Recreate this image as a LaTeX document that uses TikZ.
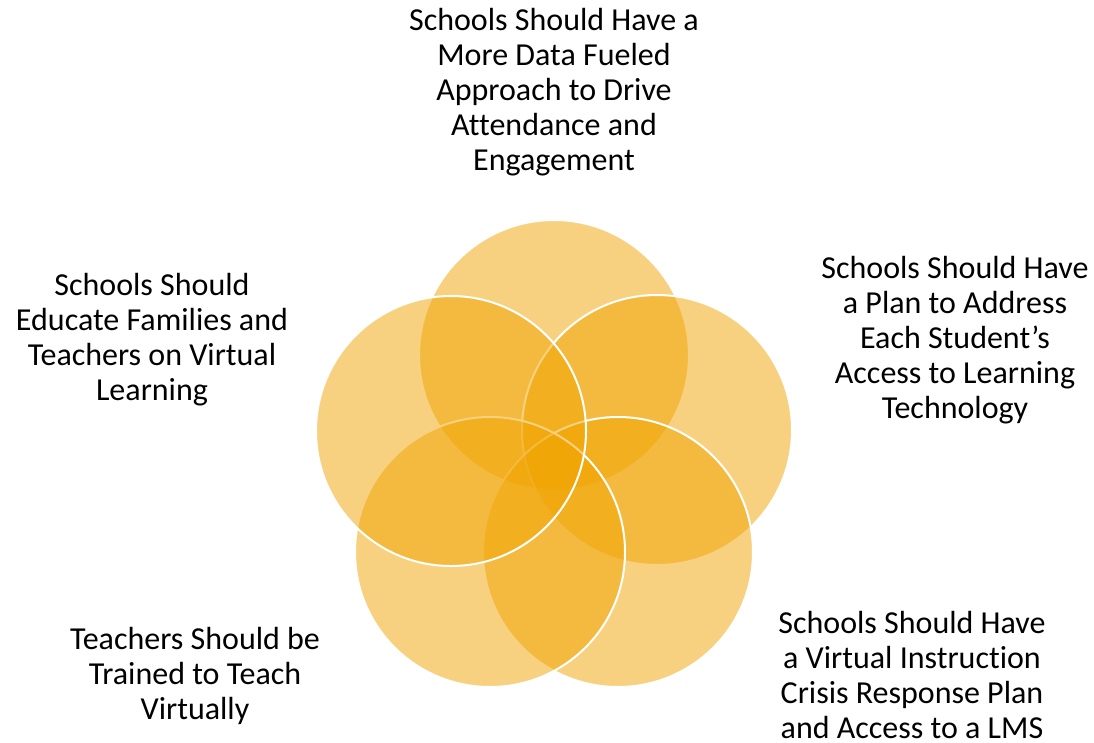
\documentclass[tikz,border=0pt]{standalone}
\usepackage{fontspec}
\setmainfont{Carlito}[Ligatures=CommonOff]
\usepackage{xcolor}
\usepackage{tikz}
\usetikzlibrary{positioning}
\definecolor{venngold}{RGB}{240,164,0}
\tikzset{
  venncircle/.style={circle,draw=white,line width=2pt,fill=venngold,
                     fill opacity=0.5,minimum size=270pt,inner sep=0pt},
  labelnode/.style={align=center,text=black,inner sep=0pt,
                    font=\fontsize{32}{35}\selectfont},
}
\begin{document}
\begin{tikzpicture}[x=1pt,y=-1pt]
  \useasboundingbox (0,0) rectangle (1094,742);
  % circles, drawn in order so later fills soften earlier white rims
  \foreach \n/\cx/\cy in {ctop/554/355,cright/657/430,cbr/618/552,cbl/490/552,cleft/451/431}{
    \node[venncircle] (\n) at (\cx,\cy) {};
  }
  \node[labelnode] (ltop) at (554,92) {Schools Should Have a\\More Data Fueled\\Approach to Drive\\Attendance and\\Engagement};
  \node[labelnode] (lleft) at (152,340) {Schools Should\\Educate Families and\\Teachers on Virtual\\Learning};
  \node[labelnode] (lright) at (955,340) {Schools Should Have\\a Plan to Address\\Each Student’s\\Access to Learning\\Technology};
  \node[labelnode] (lbl) at (195,676) {Teachers Should be\\Trained to Teach\\Virtually};
  \node[labelnode] (lbr) at (912,675) {Schools Should Have\\a Virtual Instruction\\Crisis Response Plan\\and Access to a LMS};
\end{tikzpicture}
\end{document}
